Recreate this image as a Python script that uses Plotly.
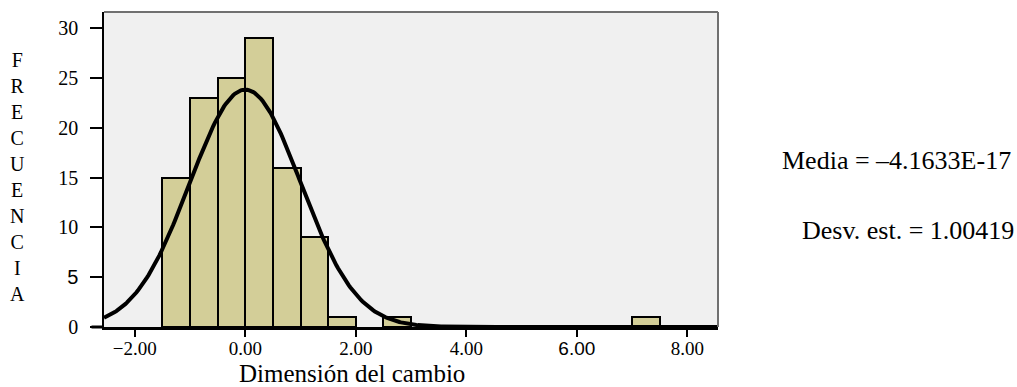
import numpy as np
import plotly.graph_objects as go

# ---- data ----
bin_left = [-1.5, -1.0, -0.5, 0.0, 0.5, 1.0, 1.5, 2.5, 7.0]
counts = [15, 23, 25, 29, 16, 9, 1, 1, 1]
bin_width = 0.5
mean_val = -4.1633e-17
std_val = 1.00419
x_tickvals = [-2, 0, 2, 4, 6, 8]
x_ticktext = ["\u22122.00", "0.00", "2.00", "4.00",
              "<span style='font-family:Liberation Sans, Arial'>6.00</span>", "8.00"]
y_tickvals = [0, 5, 10, 15, 20, 25, 30]
y_ticktext = ["0", "<span style='font-family:Liberation Sans, Arial'>5</span>",
              "10", "15", "20", "25", "30"]
x_range = [-2.557, 8.555]
y_range = [0, 31.63]

# ---- layout geometry (pixels) ----
W, H = 1017, 387
L, R, T, B = 104, 718, 12, 326.7


def px(x):
    return (x - L) / (R - L)


def py(y):
    return (B - y) / (B - T)


SERIF = "Liberation Serif, Times New Roman, serif"

n_total = sum(counts)
xc = np.linspace(x_range[0], x_range[1], 400)
yc = n_total * bin_width / (std_val * np.sqrt(2 * np.pi)) * np.exp(-0.5 * ((xc - mean_val) / std_val) ** 2)

fig = go.Figure()
fig.add_trace(go.Bar(
    x=bin_left, y=counts, width=bin_width, offset=0,
    marker=dict(color="#D3CE98", line=dict(color="black", width=2)),
    hoverinfo="skip",
))
fig.add_trace(go.Scatter(
    x=xc, y=yc, mode="lines",
    line=dict(color="black", width=4), hoverinfo="skip",
))

fig.update_layout(
    width=W, height=H,
    margin=dict(l=L, r=W - R, t=T, b=H - B, pad=0),
    paper_bgcolor="white", plot_bgcolor="#F0F0F0",
    showlegend=False, bargap=0,
    font=dict(family=SERIF, size=19, color="black"),
    xaxis=dict(
        range=x_range, tickvals=x_tickvals, ticktext=x_ticktext,
        showgrid=False, zeroline=False,
        showline=True, linecolor="black", linewidth=3,
        ticks="outside", ticklen=7, tickwidth=2, tickcolor="black",
        tickfont=dict(family=SERIF, size=19),
        ticklabelstandoff=-5,
    ),
    yaxis=dict(
        range=y_range, tickvals=y_tickvals, ticktext=y_ticktext,
        showgrid=False, zeroline=False,
        showline=True, linecolor="black", linewidth=1.5,
        ticks="outside", ticklen=12, tickwidth=2, tickcolor="black",
        tickfont=dict(family=SERIF, size=20),
        ticklabelstandoff=8,
    ),
)

# frame: top and right grey edges, bottom axis extension
fig.add_shape(type="line", xref="paper", yref="paper", x0=0, x1=1, y0=1, y1=1,
              line=dict(color="#707070", width=2))
fig.add_shape(type="line", xref="paper", yref="paper", x0=1, x1=1, y0=0, y1=1,
              line=dict(color="#707070", width=2))
fig.add_shape(type="line", xref="paper", yref="paper", x0=px(91.5), x1=0, y0=0, y1=0,
              line=dict(color="black", width=3))

# titles / stats
fig.add_annotation(text="Dimensión del cambio", xref="paper", yref="paper",
                   x=px(352), y=py(373), xanchor="center", yanchor="middle",
                   showarrow=False, font=dict(family=SERIF, size=25))
fig.add_annotation(text="<br>".join(list("FRECUENCIA")), xref="paper", yref="paper",
                   x=px(17), y=py(177), xanchor="center", yanchor="middle",
                   showarrow=False, font=dict(family=SERIF, size=20))
fig.add_annotation(text="Media = \u20134.1633E-17", xref="paper", yref="paper",
                   x=px(1013), y=py(160), xanchor="right", yanchor="middle",
                   showarrow=False, font=dict(family=SERIF, size=26))
fig.add_annotation(text="Desv. est. = 1.00419", xref="paper", yref="paper",
                   x=px(1016), y=py(230), xanchor="right", yanchor="middle",
                   showarrow=False, font=dict(family=SERIF, size=26))

fig.write_html("out.html", config={"displayModeBar": False},
               post_script="document.body.style.margin='0';")
